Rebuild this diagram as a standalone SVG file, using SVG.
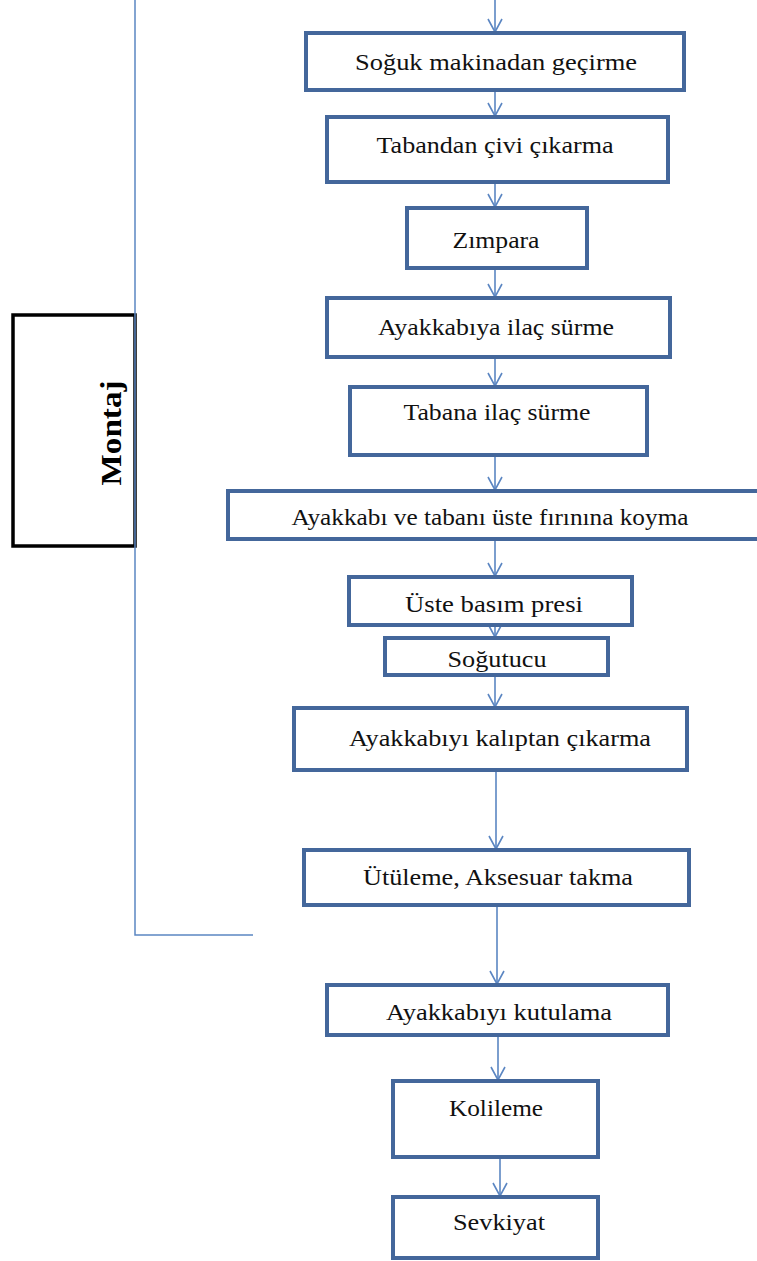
<svg xmlns="http://www.w3.org/2000/svg" width="757" height="1261" viewBox="0 0 757 1261">
  <style>
    .box { fill: #ffffff; stroke: #44679b; stroke-width: 4; }
    .lbl { font-family: "Liberation Serif", "Times New Roman", serif; font-size: 24px; fill: #111111; text-anchor: middle; }
    .flow { fill: none; stroke: #5b86c2; stroke-width: 1.6; }
    .bracket { fill: none; stroke: #5b86c2; stroke-width: 1.5; }
    .phase { fill: #ffffff; stroke: #000000; stroke-width: 3.5; }
    .phase-lbl { font-family: "Liberation Serif", "Times New Roman", serif; font-size: 29px; font-weight: bold; fill: #000000; text-anchor: middle; }
  </style>
  <defs>
    <!-- open chevron head, drawn pointing along +x so orient="auto" turns it down the line -->
    <marker id="chev" markerUnits="userSpaceOnUse" markerWidth="16" markerHeight="18" viewBox="-15 -9 16 18" refX="0" refY="0" orient="auto">
      <path d="M-13,-7 L0,0 L-13,7" fill="none" stroke="#5b86c2" stroke-width="1.6"/>
    </marker>
  </defs>
  <rect width="757" height="1261" fill="#ffffff"/>

  <!-- phase bracket -->
  <g id="montaj">
    <rect class="phase" x="13" y="315" width="122" height="231"/>
    <text class="phase-lbl" transform="translate(121,433) rotate(-90)" textLength="105" lengthAdjust="spacingAndGlyphs">Montaj</text>
  </g>

  <g id="connectors">
    <path class="bracket" d="M135,0 V935 H253"/>
    <g marker-end="url(#chev)">
      <path class="flow" d="M495,0 V32"/>
      <path class="flow" d="M495,91 V116"/>
      <path class="flow" d="M495,183 V207"/>
      <path class="flow" d="M495,269 V297"/>
      <path class="flow" d="M495,358 V386"/>
      <path class="flow" d="M495,456 V490"/>
      <path class="flow" d="M495,540 V576"/>
      <path class="flow" d="M495,626 V637"/>
      <path class="flow" d="M495,676 V707"/>
      <path class="flow" d="M496,771 V849"/>
      <path class="flow" d="M497,906 V984"/>
      <path class="flow" d="M498,1036 V1080"/>
      <path class="flow" d="M500,1158 V1196"/>
    </g>
  </g>

  <g id="n1">
    <rect class="box" x="306" y="33" width="378" height="57"/>
    <text class="lbl" x="496" y="70" textLength="282" lengthAdjust="spacingAndGlyphs">Soğuk makinadan geçirme</text>
  </g>
  <g id="n2">
    <rect class="box" x="327" y="117" width="341" height="65"/>
    <text class="lbl" x="495" y="153" textLength="237" lengthAdjust="spacingAndGlyphs">Tabandan çivi çıkarma</text>
  </g>
  <g id="n3">
    <rect class="box" x="407" y="208" width="180" height="60"/>
    <text class="lbl" x="496" y="248" textLength="87" lengthAdjust="spacingAndGlyphs">Zımpara</text>
  </g>
  <g id="n4">
    <rect class="box" x="327" y="298" width="343" height="59"/>
    <text class="lbl" x="496" y="335" textLength="236" lengthAdjust="spacingAndGlyphs">Ayakkabıya ilaç sürme</text>
  </g>
  <g id="n5">
    <rect class="box" x="350" y="387" width="297" height="68"/>
    <text class="lbl" x="497" y="420" textLength="187" lengthAdjust="spacingAndGlyphs">Tabana ilaç sürme</text>
  </g>
  <g id="n6">
    <rect class="box" x="228" y="491" width="535" height="48"/>
    <text class="lbl" x="490" y="525" textLength="397" lengthAdjust="spacingAndGlyphs">Ayakkabı ve tabanı üste fırınına koyma</text>
  </g>
  <g id="n7">
    <rect class="box" x="349" y="577" width="283" height="48"/>
    <text class="lbl" x="494" y="612" textLength="178" lengthAdjust="spacingAndGlyphs">Üste basım presi</text>
  </g>
  <g id="n8">
    <rect class="box" x="385" y="638" width="223" height="37"/>
    <text class="lbl" x="497" y="667" textLength="99" lengthAdjust="spacingAndGlyphs">Soğutucu</text>
  </g>
  <g id="n9">
    <rect class="box" x="294" y="708" width="393" height="62"/>
    <text class="lbl" x="500" y="746" textLength="302" lengthAdjust="spacingAndGlyphs">Ayakkabıyı kalıptan çıkarma</text>
  </g>
  <g id="n10">
    <rect class="box" x="304" y="850" width="385" height="55"/>
    <text class="lbl" x="498" y="885" textLength="270" lengthAdjust="spacingAndGlyphs">Ütüleme, Aksesuar takma</text>
  </g>
  <g id="n11">
    <rect class="box" x="327" y="985" width="341" height="50"/>
    <text class="lbl" x="499" y="1020" textLength="226" lengthAdjust="spacingAndGlyphs">Ayakkabıyı kutulama</text>
  </g>
  <g id="n12">
    <rect class="box" x="393" y="1081" width="205" height="76"/>
    <text class="lbl" x="496" y="1116" textLength="94" lengthAdjust="spacingAndGlyphs">Kolileme</text>
  </g>
  <g id="n13">
    <rect class="box" x="393" y="1197" width="205" height="61"/>
    <text class="lbl" x="499" y="1230" textLength="92" lengthAdjust="spacingAndGlyphs">Sevkiyat</text>
  </g>
</svg>
